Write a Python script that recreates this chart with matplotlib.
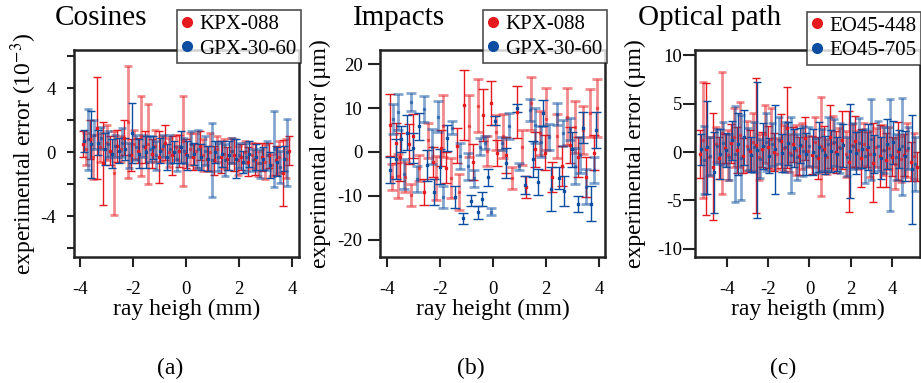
import numpy as np
import matplotlib
matplotlib.use('Agg')
import matplotlib.pyplot as plt
from matplotlib.lines import Line2D

plt.rcParams['font.family'] = ['Liberation Serif', 'DejaVu Serif']
plt.rcParams['mathtext.fontset'] = 'stix'

RED = '#e6191e'
BLUE = '#0b4da0'

# ---- (a) Cosines, units of 1e-3 ----
x_r1 = [-3.9, -3.77, -3.64, -3.51, -3.38, -3.25, -3.12, -2.99, -2.86, -2.73,
        -2.6, -2.47, -2.34, -2.21, -2.08, -1.95, -1.82, -1.69, -1.56, -1.43,
        -1.3, -1.17, -1.04, -0.91, -0.78, -0.65, -0.52, -0.39, -0.26, -0.13,
        0.0, 0.13, 0.26, 0.39, 0.52, 0.65, 0.78, 0.91, 1.04, 1.17,
        1.3, 1.43, 1.56, 1.69, 1.82, 1.95, 2.08, 2.21, 2.34, 2.47,
        2.6, 2.73, 2.86, 2.99, 3.12, 3.25, 3.38, 3.51, 3.64, 3.77, 3.9]
y_r1 = [0.5, 0.2, 0.8, -0.3, 1.5, 0.3, -0.7, 0.6, 0.1, -1.3,
        0.4, 0.2, 0.9, 1.9, -0.2, 0.5, 0.1, 1.0, 0.3, 0.5,
        -0.1, 0.4, -0.3, 0.2, 0.6, 0.0, -0.2, 0.3, 0.1, 0.7,
        -0.1, 0.2, -0.3, 0.1, 0.4, -0.2, -0.4, 0.0, -0.5, 0.2,
        -0.3, -0.1, -0.4, 0.1, -0.2, -0.5, -0.3, 0.0, -0.6, -0.2,
        -0.4, -0.7, -0.3, -0.6, -0.2, -0.8, -0.5, -0.3, -1.3, -0.4, 0.1]
e_r1 = [0.8, 1.0, 1.2, 1.4, 3.2, 0.9, 2.6, 1.1, 0.9, 2.6,
        1.0, 0.8, 1.1, 3.5, 1.0, 0.9, 0.8, 2.5, 1.0, 2.5,
        0.9, 1.0, 1.6, 0.8, 1.1, 0.9, 1.2, 0.8, 1.0, 2.8,
        0.9, 1.0, 0.8, 1.1, 0.9, 1.0, 0.8, 1.2, 0.9, 0.8,
        1.0, 0.9, 0.7, 0.8, 1.0, 0.9, 0.8, 0.7, 0.9, 0.8,
        1.0, 0.8, 0.9, 1.1, 0.8, 0.7, 0.9, 1.0, 2.05, 1.2, 0.9]

x_b1 = [-3.85, -3.72, -3.59, -3.46, -3.33, -3.2, -3.07, -2.94, -2.81, -2.68,
        -2.55, -2.42, -2.29, -2.16, -2.03, -1.9, -1.77, -1.64, -1.51, -1.38,
        -1.25, -1.12, -0.99, -0.86, -0.73, -0.6, -0.47, -0.34, -0.21, -0.08,
        0.05, 0.18, 0.31, 0.44, 0.57, 0.7, 0.83, 0.96, 1.09, 1.22,
        1.35, 1.48, 1.61, 1.74, 1.87, 2.0, 2.13, 2.26, 2.39, 2.52,
        2.65, 2.78, 2.91, 3.04, 3.17, 3.3, 3.43, 3.56, 3.69, 3.82]
y_b1 = [0.7, 0.8, 0.5, 1.1, 0.6, 0.9, 0.2, 0.5, -0.1, 0.4,
        0.1, 0.6, 0.2, -0.2, 1.2, 0.3, -0.1, 0.4, 0.0, 0.2,
        0.3, -0.2, 0.1, 0.4, -0.3, 0.2, 0.0, -0.4, 0.3, 0.1,
        -0.2, 0.5, -0.1, 0.2, -0.3, 0.1, -0.4, -0.5, 0.0, -0.3,
        -0.1, -0.5, -0.2, 0.1, -0.4, -0.2, -0.6, -0.3, -0.1, -0.5,
        -0.3, -0.7, -0.4, -0.2, -0.8, 0.2, -0.6, -0.9, -0.4, 0.0]
e_b1 = [0.7, 1.9, 2.1, 0.9, 0.8, 0.7, 1.0, 0.8, 0.9, 0.7,
        0.8, 0.9, 0.7, 0.8, 1.9, 0.8, 0.9, 0.7, 1.0, 0.8,
        0.7, 0.9, 0.8, 0.7, 0.8, 0.9, 0.7, 0.8, 1.0, 0.8,
        0.9, 0.8, 0.7, 1.2, 0.8, 0.9, 0.8, 2.3, 0.7, 0.9,
        0.8, 1.0, 0.9, 0.8, 1.2, 0.8, 0.7, 0.9, 0.8, 0.7,
        0.8, 0.9, 0.7, 0.9, 0.8, 2.4, 0.9, 1.0, 0.8, 2.1]

# ---- (b) Impacts, um ----
x_r2 = [-3.89, -3.8, -3.66, -3.58, -3.5, -3.3, -3.17, -3.1, -3.0, -2.8,
        -2.6, -2.45, -2.27, -2.15, -1.97, -1.88, -1.78, -1.58, -1.36, -1.28,
        -1.1, -0.9, -0.76, -0.57, -0.37, -0.23, -0.08, 0.1, 0.15, 0.38,
        0.5, 0.72, 0.9, 1.1, 1.25, 1.43, 1.6, 1.77, 1.97, 2.02,
        2.22, 2.4, 2.6, 2.8, 2.9, 3.1, 3.2, 3.4, 3.5, 3.66, 3.8, 3.92]
y_r2 = [6.1, -5.7, 2.1, -5.5, -1.1, -5.7, 1.8, -9.8, 3.6, -3.6,
        -9.1, 2.7, -2.3, -5.9, 0.9, 5.9, -3.6, -5.9, 1.4, -9.1,
        10.7, 5.9, -2.3, 10.5, 8.4, 0.2, 11.1, 4.5, -0.2, 3.6,
        -0.7, -5.9, 9.1, 1.1, -7.9, 11.1, 0.6, 4.3, -0.2, 7.5,
        -5.7, 3.6, -3.2, 8.0, 1.6, 5.7, -1.1, 5.0, -5.7, 8.9, -0.2, 10.0]
e_r2 = [7.1, 3.0, 4.5, 5.0, 5.5, 3.5, 4.5, 2.6, 5.0, 3.0,
        3.0, 4.0, 3.5, 5.0, 4.0, 7.0, 3.5, 4.5, 4.0, 4.0,
        8.0, 7.0, 4.0, 6.0, 6.0, 3.5, 5.0, 4.0, 3.0, 5.0,
        4.0, 2.5, 6.0, 4.0, 2.5, 6.0, 4.0, 5.0, 4.0, 7.0,
        3.5, 5.0, 4.5, 6.5, 4.0, 6.0, 4.5, 5.5, 4.5, 5.5, 4.0, 6.5]

x_b2 = [-3.89, -3.77, -3.67, -3.58, -3.47, -3.36, -3.25, -3.09, -3.0, -2.87,
        -2.8, -2.6, -2.5, -2.3, -2.22, -2.07, -2.0, -1.9, -1.75, -1.55,
        -1.43, -1.25, -1.13, -0.95, -0.84, -0.7, -0.57, -0.5, -0.4, -0.3,
        -0.19, -0.08, 0.08, 0.33, 0.5, 0.6, 0.9, 1.0, 1.2, 1.4,
        1.5, 1.6, 1.7, 1.83, 1.9, 2.1, 2.2, 2.4, 2.5, 2.64,
        2.7, 2.9, 3.0, 3.1, 3.2, 3.3, 3.4, 3.5, 3.7, 3.8, 3.9]
y_b2 = [-4.1, 7.5, -1.6, 9.1, 2.9, -5.0, 4.4, 11.4, 0.9, -6.1,
        5.8, 9.8, -3.0, 1.2, -9.1, 8.0, -3.4, -10.2, 3.2, 5.5,
        -10.2, -0.9, -15.1, -3.3, -11.1, -6.0, -13.7, 1.2, -10.7, 2.1,
        -5.8, -13.6, 7.1, 2.0, -2.5, 5.9, 10.0, -3.2, -7.5, 9.5,
        -1.6, 6.1, -6.8, 2.3, 8.9, 3.4, -8.4, 8.6, -5.9, 4.3,
        -8.9, 5.2, 0.6, -3.2, -11.8, -0.7, 5.5, -7.9, -11.8, -4.1, 5.0]
e_b2 = [3.0, 3.5, 4.5, 4.0, 3.0, 3.5, 4.0, 2.0, 3.5, 3.0,
        3.0, 3.0, 3.5, 4.0, 3.0, 3.5, 4.0, 2.5, 3.0, 1.5,
        2.5, 3.0, 1.2, 3.0, 1.2, 2.0, 1.5, 2.0, 1.5, 1.5,
        2.0, 0.8, 1.0, 1.5, 3.5, 3.0, 0.8, 0.8, 2.0, 2.5,
        4.0, 4.0, 3.0, 3.5, 3.0, 3.0, 5.0, 2.5, 2.5, 3.0,
        3.5, 2.5, 4.0, 4.0, 1.8, 4.0, 3.5, 4.0, 4.0, 3.0, 4.0]

# ---- (c) Optical path, um ----
x_r3 = [-5.3, -5.15, -5.0, -4.85, -4.7, -4.55, -4.4, -4.25, -4.1, -3.95,
        -3.8, -3.65, -3.5, -3.35, -3.2, -3.05, -2.9, -2.75, -2.6, -2.45,
        -2.3, -2.15, -2.0, -1.85, -1.7, -1.55, -1.4, -1.25, -1.1, -0.95,
        -0.8, -0.65, -0.5, -0.35, -0.2, -0.05, 0.1, 0.25, 0.4, 0.55,
        0.7, 0.85, 1.0, 1.15, 1.3, 1.45, 1.6, 1.75, 1.9, 2.05,
        2.2, 2.35, 2.5, 2.65, 2.8, 2.95, 3.1, 3.25, 3.4, 3.55,
        3.7, 3.85, 4.0, 4.15, 4.3, 4.45, 4.6, 4.75, 4.9, 5.05, 5.2]
y_r3 = [-0.2, 1.2, 0.3, -0.5, -1.5, 0.8, -0.6, 2.0, 0.4, -0.3,
        0.9, 1.5, 0.2, 1.8, -0.4, 0.6, 0.1, 1.0, 0.7, -0.5,
        0.3, 1.9, 0.5, 1.3, 0.0, -0.2, 1.1, 0.4, 2.5, -0.1,
        0.8, 0.2, -0.4, 0.6, 1.4, 0.1, -0.3, 1.0, -0.6, 0.6,
        0.3, -0.5, 1.6, 0.9, 0.0, 0.5, 1.2, -0.2, -1.0, 0.7,
        1.1, 0.2, -0.6, 0.8, 0.3, -0.2, -1.1, 0.5, -0.4, 0.2,
        -0.8, 0.4, -0.5, -1.2, 0.1, -0.7, -0.3, 0.2, -1.0, -0.4, -1.5]
e_r3 = [2.5, 6.0, 6.8, 2.0, 5.5, 1.8, 2.2, 6.3, 1.5, 2.6,
        2.0, 3.0, 2.4, 3.4, 1.8, 2.6, 2.2, 3.0, 7.0, 2.4,
        1.8, 3.0, 2.2, 3.2, 2.0, 1.6, 2.8, 2.4, 4.2, 2.0,
        1.8, 2.6, 2.0, 2.4, 2.2, 1.6, 2.0, 2.6, 2.2, 5.1,
        2.4, 1.8, 3.3, 2.8, 2.2, 2.0, 3.0, 2.4, 5.2, 2.2,
        2.6, 2.0, 3.0, 2.2, 1.8, 2.4, 4.1, 2.0, 3.2, 2.6,
        2.8, 2.2, 2.0, 2.6, 3.0, 2.4, 2.2, 2.8, 2.0, 2.4, 1.5]

x_b3 = [-5.25, -5.1, -4.95, -4.8, -4.65, -4.5, -4.35, -4.2, -4.05, -3.9,
        -3.75, -3.6, -3.45, -3.3, -3.15, -3.0, -2.85, -2.7, -2.55, -2.4,
        -2.25, -2.1, -1.95, -1.8, -1.65, -1.5, -1.35, -1.2, -1.05, -0.9,
        -0.75, -0.6, -0.45, -0.3, -0.15, 0.0, 0.15, 0.3, 0.45, 0.6,
        0.75, 0.9, 1.05, 1.2, 1.35, 1.5, 1.65, 1.8, 1.95, 2.1,
        2.25, 2.4, 2.55, 2.7, 2.85, 3.0, 3.15, 3.3, 3.45, 3.6,
        3.75, 3.9, 4.05, 4.2, 4.35, 4.5, 4.65, 4.8, 4.95, 5.1]
y_b3 = [0.3, -0.8, 0.5, -0.4, -2.1, 0.6, -0.2, 0.9, 0.2, -0.5,
        1.2, -0.2, 0.8, -0.6, 1.5, 0.3, -0.3, 0.5, 0.2, -0.7,
        0.6, 1.0, -0.4, 0.8, 0.3, 1.2, -0.1, 0.5, 0.9, -0.3,
        0.4, -0.5, 0.7, 0.1, -0.2, 0.6, 0.0, -0.4, 0.5, 0.2,
        -0.3, 0.8, 0.1, 1.0, -0.2, 0.4, 0.7, -0.5, 0.1, 0.6,
        -0.1, 0.9, 0.3, -0.4, 0.5, 1.3, -0.2, 0.6, -0.6, 0.2,
        0.8, -0.3, 1.0, -0.5, 0.3, 0.6, -0.4, 0.4, -1.8, -1.2]
e_b3 = [1.6, 3.5, 4.8, 2.0, 4.2, 1.8, 2.6, 2.2, 1.8, 2.4,
        2.0, 5.0, 3.2, 4.4, 2.8, 2.2, 1.8, 2.6, 7.0, 2.0,
        2.4, 3.0, 1.8, 2.2, 4.6, 2.4, 2.0, 2.6, 2.2, 3.9,
        2.0, 2.4, 1.8, 2.6, 2.2, 2.0, 2.4, 1.8, 2.6, 2.2,
        2.0, 2.8, 2.2, 2.4, 1.8, 2.6, 2.2, 2.0, 4.9, 2.4,
        2.2, 2.6, 2.0, 2.8, 2.4, 4.2, 2.0, 2.6, 2.2, 2.4,
        2.6, 5.8, 2.2, 2.4, 2.0, 5.0, 2.6, 2.2, 5.6, 2.8]

x_ticks = [-4, -2, 0, 2, 4]
x_ticklabels = ['-4', '-2', '0', '2', '4']


def draw_series(ax, x, y, e, color, capsize):
    x, y, e = np.asarray(x), np.asarray(y), np.asarray(e)
    light = np.arange(len(x)) % 2 == 1
    # pale, thicker bars first, then the crisp ones
    ax.errorbar(x[light], y[light], yerr=e[light], fmt='s', ms=1.6, color=color,
                elinewidth=2.0, capsize=capsize, capthick=2.0, alpha=0.5)
    ax.errorbar(x[~light], y[~light], yerr=e[~light], fmt='s', ms=1.6, color=color,
                elinewidth=1.0, capsize=capsize, capthick=1.0)


def style_axes(ax, xlim, ylim, yticks, yticklabels, ylen, ypad):
    ax.set_xlim(*xlim)
    ax.set_ylim(*ylim)
    ax.set_xticks(x_ticks)
    ax.set_xticklabels(x_ticklabels)
    ax.set_yticks(yticks)
    ax.set_yticklabels(yticklabels)
    for s in ax.spines.values():
        s.set_linewidth(1.8)
        s.set_color('#222222')
    ax.tick_params(axis='x', direction='out', length=7, width=1.5, pad=10,
                   labelsize=13.5, color='#222222')
    ax.tick_params(axis='y', direction='out', length=ylen, width=1.5, pad=ypad,
                   labelsize=13.5, color='#222222')


def add_legend(ax, labels, anchor):
    handles = [Line2D([], [], marker='o', ls='', color=RED, markersize=7),
               Line2D([], [], marker='o', ls='', color=BLUE, markersize=7)]
    leg = ax.legend(handles, labels, loc='upper right', bbox_to_anchor=anchor,
                    fontsize=15, frameon=True, fancybox=False, borderpad=0.2,
                    handlelength=0.6, handletextpad=0.3, labelspacing=0.25,
                    borderaxespad=0.0)
    leg.get_frame().set_edgecolor('#222222')
    leg.get_frame().set_linewidth(1.2)
    leg.set_zorder(10)


fig = plt.figure(figsize=(9.21, 3.83), dpi=100)
W, H = 921.0, 383.0


def make_axes(left_px, right_px):
    return fig.add_axes([left_px / W, (H - 257) / H, (right_px - left_px) / W, 207 / H])


# (a)
ax1 = make_axes(74, 299)
draw_series(ax1, x_r1, y_r1, e_r1, RED, 3.2)
draw_series(ax1, x_b1, y_b1, e_b1, BLUE, 3.2)
style_axes(ax1, (-4.23, 4.26), (-6.56, 6.4), [-6, -4, -2, 0, 2, 4, 6],
           ['', '-4', '', '0', '', '4', ''], 5, 8)
ax1.set_ylabel(r'experimental error (10$^{-3}$)', fontsize=17)
ax1.yaxis.set_label_coords(-0.222, 0.5)
ax1.set_xlabel('ray heigh (mm)', fontsize=17)
add_legend(ax1, ['KPX-088', 'GPX-30-60'], (1.009, 1.193))

# (b)
ax2 = make_axes(380, 605)
draw_series(ax2, x_r2, y_r2, e_r2, RED, 3.6)
draw_series(ax2, x_b2, y_b2, e_b2, BLUE, 3.6)
style_axes(ax2, (-4.26, 4.23), (-23.9, 23.2), [-20, -10, 0, 10, 20],
           ['-20', '-10', '0', '10', '20'], 8.5, 4)
ax2.set_ylabel('experimental error (µm)', fontsize=17)
ax2.yaxis.set_label_coords(-0.265, 0.5)
ax2.set_xlabel('ray height (mm)', fontsize=17)
add_legend(ax2, ['KPX-088', 'GPX-30-60'], (1.009, 1.193))

# (c)
ax3 = make_axes(695, 920)
draw_series(ax3, x_r3, y_r3, e_r3, RED, 3.0)
draw_series(ax3, x_b3, y_b3, e_b3, BLUE, 3.0)
style_axes(ax3, (-5.55, 5.36), (-10.86, 10.55), [-10, -5, 0, 5, 10],
           ['-10', '-5', '0', '5', '10'], 8.5, 1)
ax3.set_ylabel('experimental error (µm)', fontsize=17)
ax3.yaxis.set_label_coords(-0.267, 0.5)
ax3.set_xlabel('ray heigth (mm)', fontsize=17)
add_legend(ax3, ['EO45-448', 'EO45-705'], (1.004, 1.184))

for ax in (ax1, ax2, ax3):
    ax.yaxis.label.set_va('center')
    ax.xaxis.set_label_coords(0.5, -0.255)
    ax.xaxis.label.set_va('center')

# panel titles and tags
fig.text(55 / W, 1 - 25 / H, 'Cosines', fontsize=21, ha='left', va='baseline')
fig.text(353 / W, 1 - 25 / H, 'Impacts', fontsize=21, ha='left', va='baseline')
fig.text(638 / W, 1 - 25 / H, 'Optical path', fontsize=21, ha='left', va='baseline')
for tag, xc in (('(a)', 170), ('(b)', 471), ('(c)', 783)):
    fig.text(xc / W, 1 - 368 / H, tag, fontsize=17, ha='center', va='center')

fig.savefig('out.png', dpi=100)
